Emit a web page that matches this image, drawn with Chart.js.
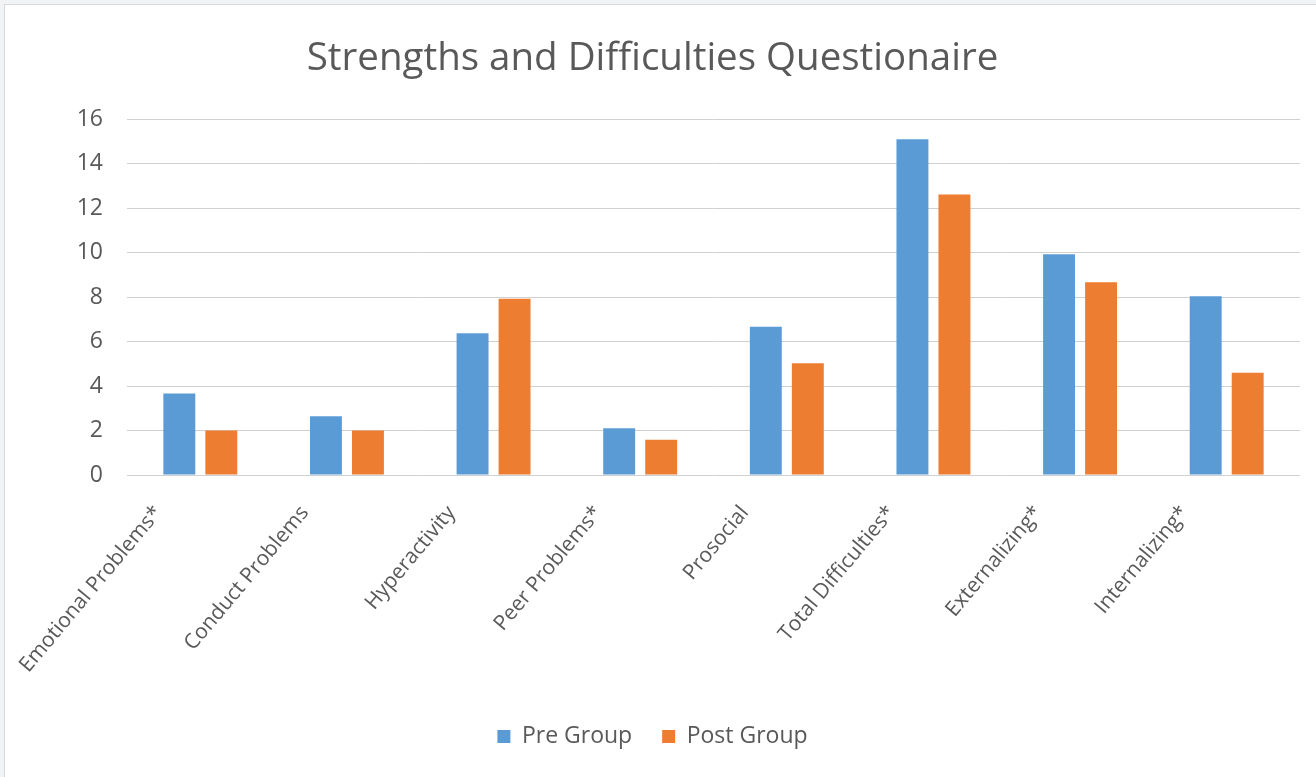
<!DOCTYPE html>
<html>
<head>
<meta charset="utf-8">
<script src="https://cdn.jsdelivr.net/npm/chart.js@4"></script>
<style>
  html, body { margin: 0; padding: 0; background: #f2f3f5; }
  #wrap {
    position: absolute; left: 4px; top: 4px;
    width: 1311px; height: 772px;
    background: #fff; border: 1px solid #d9d9d9;
  }
</style>
</head>
<body>
<div id="wrap"><canvas id="sdq"></canvas></div>
<script>
const categories = [
  "Emotional Problems*", "Conduct Problems", "Hyperactivity", "Peer Problems*",
  "Prosocial", "Total Difficulties*", "Externalizing*", "Internalizing*"
];
const preGroup  = [3.66, 2.64, 6.37, 2.1, 6.67, 15.1, 9.93, 8.04];
const postGroup = [2.0, 2.0, 7.93, 1.59, 5.02, 12.61, 8.67, 4.6];
const yTicks = [0, 2, 4, 6, 8, 10, 12, 14, 16];

const grey = "#595959";
const font = "'Open Sans', 'Noto Sans', sans-serif";

new Chart(document.getElementById("sdq"), {
  type: "bar",
  data: {
    labels: categories,
    datasets: [
      { label: "Pre Group",  data: preGroup,  backgroundColor: "#5b9bd5" },
      { label: "Post Group", data: postGroup, backgroundColor: "#ed7d31" }
    ]
  },
  options: {
    responsive: true,
    maintainAspectRatio: false,
    animation: false,
    categoryPercentage: 0.573,
    barPercentage: 0.76,
    layout: { padding: { left: 0, right: 16, top: 0, bottom: 19 } },
    plugins: {
      title: {
        display: true,
        text: "Strengths and Difficulties Questionaire",
        color: grey,
        font: { family: font, size: 38.5, weight: "normal", lineHeight: 1.2 },
        padding: { top: 31, bottom: 37 }
      },
      legend: {
        position: "bottom",
        labels: {
          color: grey,
          font: { family: font, size: 23 },
          boxWidth: 13,
          boxHeight: 13,
          padding: 30
        }
      },
      tooltip: { enabled: false }
    },
    scales: {
      x: {
        grid: { display: false },
        border: { display: false },
        afterFit: s => { s.height = 220; },
        ticks: {
          color: grey,
          font: { family: font, size: 21 },
          maxRotation: 50,
          minRotation: 50,
          labelOffset: -42,
          padding: 18
        }
      },
      y: {
        min: 0,
        max: 16,
        afterBuildTicks: axis => { axis.ticks = yTicks.map(v => ({ value: v })); },
        afterFit: s => { s.width = 122; },
        grid: { color: "#d0d0d0", drawTicks: false },
        border: { display: false },
        ticks: {
          color: grey,
          font: { family: font, size: 23 },
          padding: 24
        }
      }
    }
  }
});
</script>
</body>
</html>
